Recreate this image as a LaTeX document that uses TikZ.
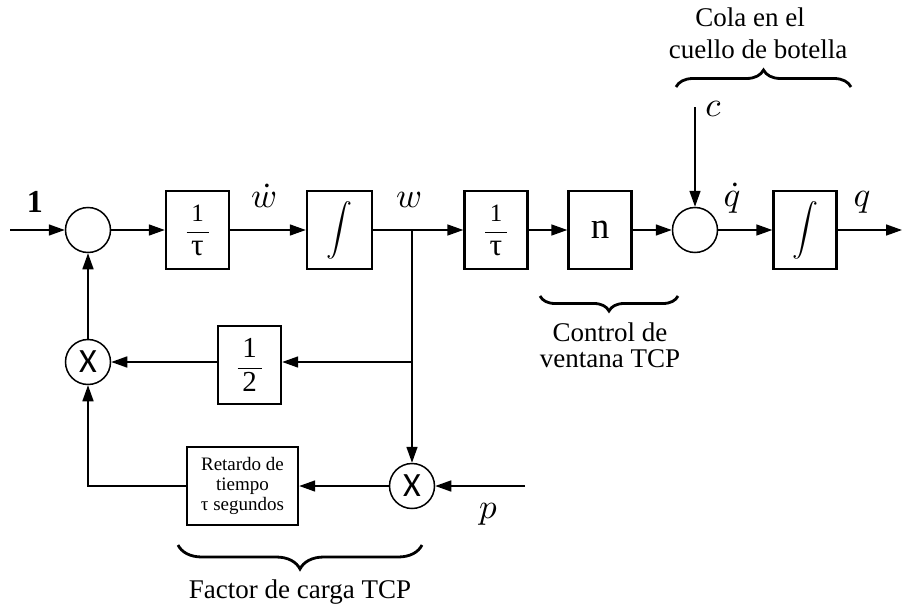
\documentclass[tikz,border=0pt]{standalone}
\usepackage{fontspec}
\usepackage{graphicx}
\newfontfamily\txtf{Liberation Serif}
\newfontfamily\sansf{Carlito}
\usetikzlibrary{arrows.meta,decorations.pathreplacing,calc}
\newcommand{\mymath}[2]{\scalebox{#1}{$#2$}}
\newcommand{\myfrac}[3]{$\displaystyle\frac{\hbox to #1{\hss #2\hss}}{\hbox to #1{\hss #3\hss}}$}
\begin{document}
\begin{tikzpicture}[x=1pt,y=-1pt,
 blk/.style={draw,line width=2.4pt,minimum width=63pt,minimum height=78pt,inner sep=0pt,font=\txtf\fontsize{25}{25}\selectfont},
 sumc/.style={draw,circle,line width=1.5pt,minimum size=45pt,inner sep=0pt,font=\sansf\fontsize{34}{34}\selectfont},
 arr/.style={line width=1.6pt,-{Triangle[length=16pt,width=11pt]}},
 ln/.style={line width=1.6pt},
 lbl/.style={anchor=base},
 brc/.style={decorate,decoration={brace,amplitude=#1},line width=2.8pt},
 note/.style={font=\txtf\fontsize{27}{31}\selectfont,align=center,anchor=base}
]
\useasboundingbox (0,0) rectangle (902,613);
% main row
\coordinate (in) at (10,230);
\node[sumc] (s1) at (88,230) {};
\node[blk] (b1) at (197.5,230) {\myfrac{22pt}{1}{\scalebox{1.25}{τ}}};
\node[blk,minimum width=65pt] (i1) at (339.5,230) {\mymath{2.6}{\displaystyle\int}};
\coordinate (br) at (412,230);
\node[blk] (b2) at (496,230) {\myfrac{22pt}{1}{\scalebox{1.25}{τ}}};
\node[blk,font=\txtf\fontsize{37}{37}\selectfont] (nb) at (600,230) {n};
\node[sumc] (s2) at (695,230) {};
\node[blk] (i2) at (805,230) {\mymath{2.6}{\displaystyle\int}};
\coordinate (out) at (902,230);
\coordinate (cin) at (695,107);
% feedback
\node[sumc] (m1) at (88,362) {X};
\node[blk,font=\txtf\fontsize{29}{29}\selectfont] (half) at (249.5,365) {\myfrac{24pt}{1}{2}};
\coordinate (br2) at (412,362);
\node[sumc] (m2) at (412,486) {X};
\node[blk,minimum width=111pt,font=\txtf\fontsize{19}{20}\selectfont,align=center] (dl) at (242.5,486) {Retardo de\\tiempo\\τ segundos};
\coordinate (pin) at (525,486);
% connectors
\draw[arr] (in) -- (s1);
\draw[arr] (s1) -- (b1);
\draw[arr] (b1) -- (i1);
\draw[ln] (i1) -- (br);
\draw[arr] (br) -- (b2);
\draw[arr] (b2) -- (nb);
\draw[arr] (nb) -- (s2);
\draw[arr] (s2) -- (i2);
\draw[arr] (i2) -- (out);
\draw[arr] (cin) -- (s2);
\draw[arr] (br) -- (m2);
\draw[arr] (br2) -- (br2 -| half.east);
\draw[arr] (half.west |- m1) -- (m1);
\draw[arr] (pin) -- (m2);
\draw[arr] (m2) -- (dl);
\draw[arr] (dl.west) -| (m1.south);
\draw[arr] (m1) -- (s1);
% labels
\node[anchor=base,font=\txtf\bfseries\fontsize{32}{32}\selectfont] at (35,212) {1};
\node[lbl] at (264,207) {\mymath{3.5}{\dot w}};
\node[lbl] at (409,207) {\mymath{3.5}{w}};
\node[lbl] at (732,206) {\mymath{3.5}{\dot q}};
\node[lbl] at (862,206) {\mymath{3.5}{q}};
\node[lbl] at (713,116) {\mymath{3.5}{c}};
\node[lbl] at (488,518) {\mymath{3.5}{p}};
% annotations
\node[note] at (750,27) {Cola en el};
\node[note] at (758,58) {cuello de botella};
\draw[brc=17] (676,87) -- (851,87);
\draw[brc=15] (678,296) -- (540,296);
\node[note] at (610,341) {Control de};
\node[note] at (610,367) {ventana TCP};
\draw[brc=24] (422,545) -- (178,545);
\node[note] at (300,598) {Factor de carga TCP};
\end{tikzpicture}
\end{document}
